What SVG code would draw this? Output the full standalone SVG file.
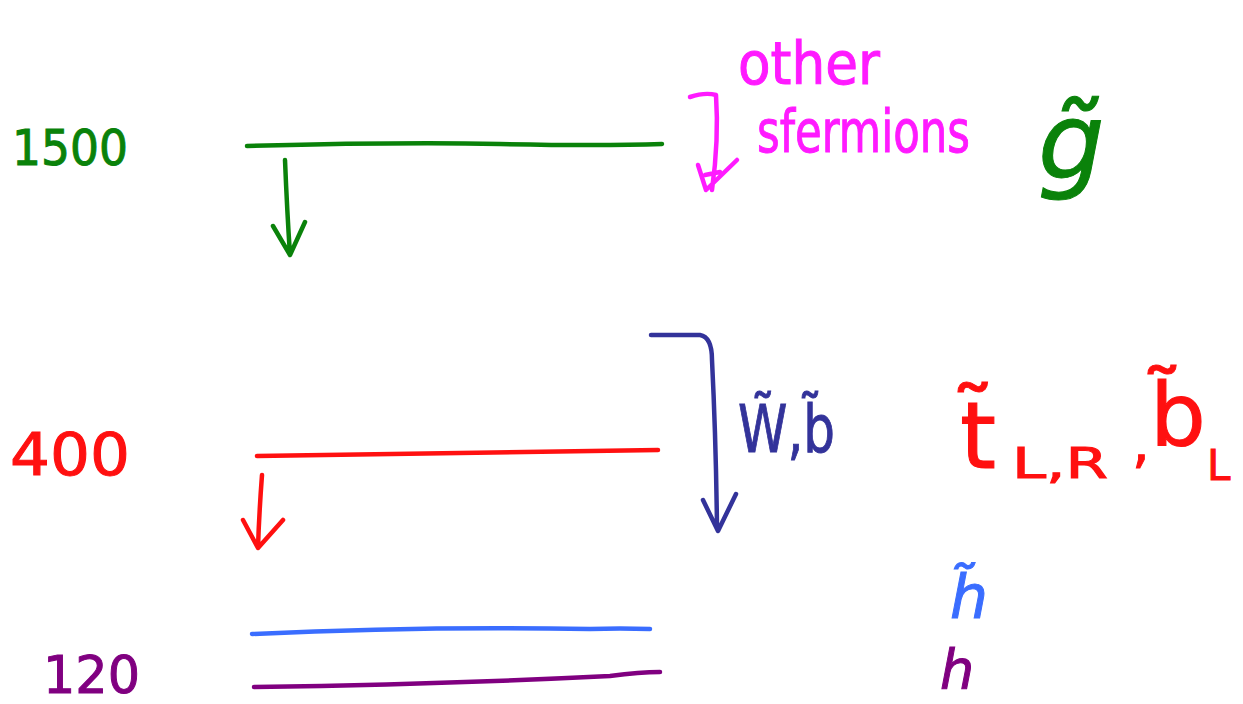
<svg xmlns="http://www.w3.org/2000/svg" width="1243" height="704" viewBox="0 0 1243 704">
<style>
.t{font-family:"DejaVu Sans","Liberation Sans",sans-serif}
.g{stroke:#0a820a;fill:#0a820a}
.m{stroke:#ff1aff;fill:#ff1aff}
.n{stroke:#33339a;fill:#33339a}
.r{stroke:#ff1010;fill:#ff1010}
.b{stroke:#3a6dff;fill:#3a6dff}
.p{stroke:#800080;fill:#800080}
path.ln{fill:none;stroke-width:4.5;stroke-linecap:round;stroke-linejoin:round}
text{stroke:none}
</style>
<rect width="1243" height="704" fill="#ffffff"/>
<g id="level-1500">
<text class="t g" x="12" y="165" font-size="50" textLength="116" lengthAdjust="spacingAndGlyphs">1500</text>
<path class="ln g" d="M247,146 Q400,142 500,144 T662,144"/>
</g>
<g id="level-400">
<text class="t r" x="10" y="475" font-size="58" textLength="120" lengthAdjust="spacingAndGlyphs">400</text>
<path class="ln r" d="M257,456 Q450,454 658,450"/>
</g>
<g id="level-120-higgsino">
<path class="ln b" d="M252,634 Q420,626 590,629 Q620,628 650,629"/>
</g>
<g id="level-120-higgs">
<text class="t p" x="43" y="693" font-size="52" textLength="97" lengthAdjust="spacingAndGlyphs">120</text>
<path class="ln p" d="M254,687 Q450,684 610,676 Q640,672 660,672"/>
</g>
<g id="label-gluino">
<text class="t g" x="1038" y="178" font-size="105" font-style="italic">g̃</text>
</g>
<g id="label-other-sfermions">
<text class="t m" x="738" y="84" font-size="58" textLength="142" lengthAdjust="spacingAndGlyphs">other</text>
<text class="t m" x="757" y="152" font-size="58" textLength="213" lengthAdjust="spacingAndGlyphs">sfermions</text>
</g>
<g id="label-wb">
<text class="t n" x="738" y="452" font-size="66" textLength="97" lengthAdjust="spacingAndGlyphs">W̃,b̃</text>
</g>
<g id="label-stop-sbottom">
<text class="t r" x="960" y="468" font-size="92">t̃</text>
<text class="t r" x="1012" y="478" font-size="42" textLength="96" lengthAdjust="spacingAndGlyphs">L,R</text>
<text class="t r" x="1132" y="462" font-size="56">,</text>
<text class="t r" x="1150" y="445" font-size="88">b̃</text>
<text class="t r" x="1207" y="480" font-size="42">L</text>
</g>
<g id="label-higgsino">
<text class="t b" x="950" y="618" font-size="60" font-style="italic">h̃</text>
</g>
<g id="label-higgs">
<text class="t p" x="940" y="688" font-size="54" font-style="italic">h</text>
</g>
<g id="connectors">
<path class="ln g" d="M285,160 Q287,210 290,255 M273,226 L290,255 L305,222"/>
<path class="ln r" d="M262,475 Q259,515 258,548 M243,520 L258,548 L283,520"/>
<path class="ln n" d="M651,335 L700,335 Q712,337 712,360 Q716,440 717,528 M703,500 L718,531 L736,494"/>
<path class="ln m" d="M690,97 Q705,92 716,95 Q719,140 712,190 M698,165 L706,190 L737,160 M705,175 L720,172"/>
</g>
</svg>
